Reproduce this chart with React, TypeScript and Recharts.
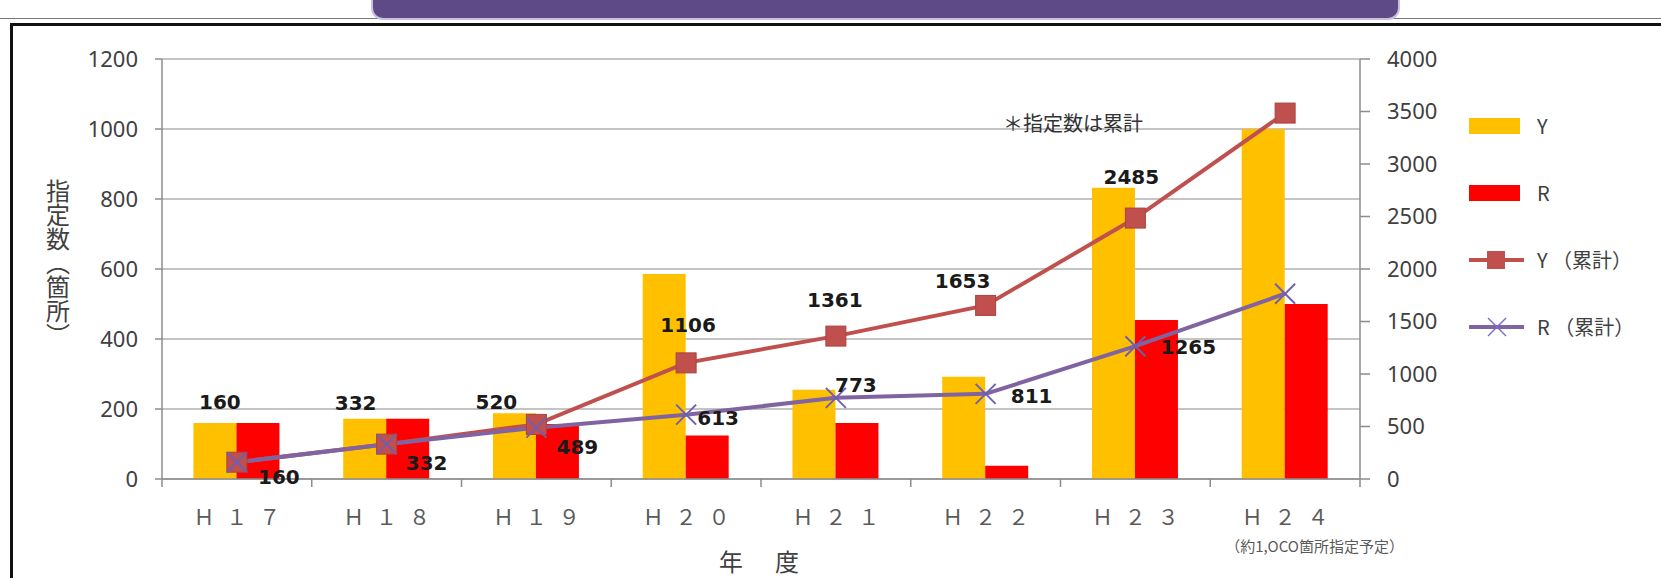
import React from 'react'
import {
  ComposedChart,
  Bar,
  Line,
  XAxis,
  YAxis,
  CartesianGrid,
  Legend,
  LabelList,
  Label,
} from 'recharts'

// 年度
const years = ['Ｈ１７', 'Ｈ１８', 'Ｈ１９', 'Ｈ２０', 'Ｈ２１', 'Ｈ２２', 'Ｈ２３', 'Ｈ２４']
// 各年度の指定数
const countY = [160, 172, 188, 586, 255, 292, 832, 1000]
const countR = [160, 172, 157, 124, 160, 38, 454, 500]
// 累計
const cumY = [160, 332, 520, 1106, 1361, 1653, 2485, 3485]
const cumR = [160, 332, 489, 613, 773, 811, 1265, 1765]
// 累計ラベルを出す年度（H24 は無し）
const labelShown = [true, true, true, true, true, true, true, false]

const leftTicks = [0, 200, 400, 600, 800, 1000, 1200]
const rightTicks = [0, 500, 1000, 1500, 2000, 2500, 3000, 3500, 4000]

const data = years.map((year, i) => ({
  year,
  Y: countY[i],
  R: countR[i],
  Ycum: cumY[i],
  Rcum: cumR[i],
}))

// layout
const W = 1661
const H = 578
const PLOT_LEFT = 162
const PLOT_RIGHT = 1360
const BAND = (PLOT_RIGHT - PLOT_LEFT) / years.length

// hand-placed label offsets, like the original sheet
const yCumOffset = [[-17, -60], [-31, -41], [-40, -23], [2, -38], [-1, -36], [-23, -25], [-4, -41], [0, 0]]
const rCumOffset = [[42, 15], [40, 19], [41, 19], [32, 3], [20, -13], [46, 2], [53, 1], [0, 0]]

const GOLD = '#FFC000'
const RED = '#FF0000'
const BROWN = '#C0504D'
const PURPLE = '#8064A2'
const AXIS = '#8c8c8c'
const TEXT = '#404040'
const CJK = "'Noto Sans CJK JP', 'Noto Sans', sans-serif"
const TICK_SPACING = 12

function makeCumLabel(values: number[], offsets: number[][]) {
  return (props: any) => {
    const { x, y, value } = props
    const i = props.index ?? values.indexOf(value)
    if (!labelShown[i]) return null
    const [dx, dy] = offsets[i]
    return (
      <text
        x={x + dx}
        y={y + dy}
        dy="0.36em"
        textAnchor="middle"
        fontFamily="'DejaVu Sans', sans-serif"
        fontWeight="bold"
        fontSize={20}
        fill="#1a1a1a"
      >
        {value}
      </text>
    )
  }
}

function SquareDot(p: any) {
  if (p.cx == null) return null
  return (
    <rect
      key={`sq-${p.index}`}
      x={p.cx - 10}
      y={p.cy - 10}
      width={20}
      height={20}
      fill={BROWN}
      stroke="#a9433f"
      strokeWidth={1}
    />
  )
}

function CrossDot(p: any) {
  if (p.cx == null) return null
  const s = 10
  return (
    <g key={`x-${p.index}`} stroke="#6f5fb0" strokeWidth={2}>
      <line x1={p.cx - s} y1={p.cy - s} x2={p.cx + s} y2={p.cy + s} />
      <line x1={p.cx - s} y1={p.cy + s} x2={p.cx + s} y2={p.cy - s} />
    </g>
  )
}

function YearTick({ x, y, payload, index }: any) {
  const last = index === years.length - 1
  return (
    <g>
      <line x1={x - BAND / 2} x2={x - BAND / 2} y1={y - 8} y2={y} stroke={AXIS} strokeWidth={1.5} />
      {last && <line x1={x + BAND / 2} x2={x + BAND / 2} y1={y - 8} y2={y} stroke={AXIS} strokeWidth={1.5} />}
      <text
        x={x + TICK_SPACING / 2}
        y={y + 30}
        dy="0.36em"
        textAnchor="middle"
        fontFamily={CJK}
        fontSize={21}
        letterSpacing={TICK_SPACING}
        fill="#5a5a5a"
      >
        {payload.value}
      </text>
      {last && (
        <text x={x - 60} y={y + 60} dy="0.36em" fontFamily={CJK} fontSize={15} fill="#5a5a5a">
          （約1,OCO箇所指定予定）
        </text>
      )}
    </g>
  )
}

function LeftTitle({ viewBox }: any) {
  return (
    <text
      x={viewBox.x + 58}
      y={viewBox.y + viewBox.height / 2 - 6}
      textAnchor="middle"
      fontFamily={CJK}
      fontSize={24}
      fill={TEXT}
      style={{ writingMode: 'vertical-rl' }}
    >
      指定数（箇所）
    </text>
  )
}

function BottomTitle({ viewBox }: any) {
  return (
    <text
      x={viewBox.x + viewBox.width / 2}
      y={viewBox.y + 83}
      dy="0.36em"
      textAnchor="middle"
      fontFamily={CJK}
      fontSize={24}
      letterSpacing={4}
      fill={TEXT}
    >
      年　度
    </text>
  )
}

const legendRows = [
  { name: 'Y', kind: 'bar', color: GOLD },
  { name: 'R', kind: 'bar', color: RED },
  { name: 'Y （累計）', kind: 'square', color: BROWN },
  { name: 'R （累計）', kind: 'cross', color: PURPLE },
]

function LegendBox() {
  return (
    <div style={{ fontFamily: CJK, fontSize: 20, color: TEXT }}>
      {legendRows.map((row) => (
        <div key={row.name} style={{ height: 67, display: 'flex', alignItems: 'center' }}>
          <svg width={56} height={24} style={{ marginRight: 12 }}>
            {row.kind === 'bar' && <rect x={0} y={4} width={51} height={16} fill={row.color} />}
            {row.kind === 'square' && (
              <g>
                <line x1={0} x2={55} y1={12} y2={12} stroke={row.color} strokeWidth={4} />
                <rect x={18} y={3} width={18} height={18} fill={row.color} />
              </g>
            )}
            {row.kind === 'cross' && (
              <g>
                <line x1={0} x2={55} y1={12} y2={12} stroke={row.color} strokeWidth={4} />
                <line x1={19} y1={3} x2={37} y2={21} stroke="#7a6ad0" strokeWidth={1.5} />
                <line x1={19} y1={21} x2={37} y2={3} stroke="#7a6ad0" strokeWidth={1.5} />
              </g>
            )}
          </svg>
          <span>{row.name}</span>
        </div>
      ))}
    </div>
  )
}

export default function App() {
  return (
    <div style={{ position: 'absolute', left: 0, top: 0, width: W, height: H, overflow: 'hidden', background: '#fff' }}>
      {/* slide decoration */}
      <div style={{ position: 'absolute', left: 0, top: 18, width: W, height: 1, background: '#777' }} />
      <div
        style={{
          position: 'absolute',
          left: 371,
          top: -6,
          width: 1025,
          height: 22,
          background: '#5d4a87',
          border: '2px solid #c9c0df',
          borderRadius: '0 0 12px 12px',
        }}
      />
      <div
        style={{
          position: 'absolute',
          left: 10,
          top: 23,
          width: W,
          height: H,
          border: '3px solid #111',
          boxSizing: 'border-box',
        }}
      />
      <div
        style={{
          position: 'absolute',
          left: 1003,
          top: 108,
          fontFamily: CJK,
          fontSize: 20,
          color: '#333',
          zIndex: 2,
        }}
      >
        ＊指定数は累計
      </div>
      <ComposedChart
        width={W}
        height={H}
        data={data}
        margin={{ top: 59, right: 241, bottom: 39, left: 0 }}
        barCategoryGap="21%"
        barGap={0}
      >
        <CartesianGrid vertical={false} yAxisId="left" stroke="#c4c4c4" strokeWidth={2} />
        <XAxis
          dataKey="year"
          height={60}
          tick={<YearTick />}
          tickLine={false}
          tickSize={8}
          tickMargin={0}
          axisLine={{ stroke: AXIS, strokeWidth: 1.5 }}
          interval={0}
        >
          <Label content={<BottomTitle />} />
        </XAxis>
        <YAxis
          yAxisId="left"
          width={PLOT_LEFT}
          domain={[0, 1200]}
          ticks={leftTicks}
          tickSize={7}
          tickMargin={17}
          tick={{ fill: TEXT, fontSize: 22, fontFamily: "'Noto Sans', sans-serif" }}
          axisLine={{ stroke: AXIS, strokeWidth: 1.5 }}
          tickLine={{ stroke: AXIS, strokeWidth: 1.5 }}
        >
          <Label content={<LeftTitle />} />
        </YAxis>
        <YAxis
          yAxisId="right"
          orientation="right"
          width={60}
          domain={[0, 4000]}
          ticks={rightTicks}
          tickSize={10}
          tickMargin={17}
          tick={{ fill: TEXT, fontSize: 22, fontFamily: "'Noto Sans', sans-serif", textAnchor: 'start' }}
          axisLine={{ stroke: AXIS, strokeWidth: 1.5 }}
          tickLine={{ stroke: AXIS, strokeWidth: 1.5 }}
        />
        <Legend
          layout="vertical"
          align="center"
          verticalAlign="middle"
          content={<LegendBox />}
          wrapperStyle={{ left: 1469, top: 92, width: 192 }}
        />
        <Bar yAxisId="left" dataKey="Y" name="Y" fill={GOLD} isAnimationActive={false} />
        <Bar yAxisId="left" dataKey="R" name="R" fill={RED} isAnimationActive={false} />
        <Line
          yAxisId="right"
          dataKey="Ycum"
          name="Y （累計）"
          stroke={BROWN}
          strokeWidth={4}
          dot={<SquareDot />}
          activeDot={false}
          isAnimationActive={false}
        >
          <LabelList dataKey="Ycum" content={makeCumLabel(cumY, yCumOffset)} />
        </Line>
        <Line
          yAxisId="right"
          dataKey="Rcum"
          name="R （累計）"
          stroke={PURPLE}
          strokeWidth={4}
          dot={<CrossDot />}
          activeDot={false}
          isAnimationActive={false}
        >
          <LabelList dataKey="Rcum" content={makeCumLabel(cumR, rCumOffset)} />
        </Line>
      </ComposedChart>
    </div>
  )
}
